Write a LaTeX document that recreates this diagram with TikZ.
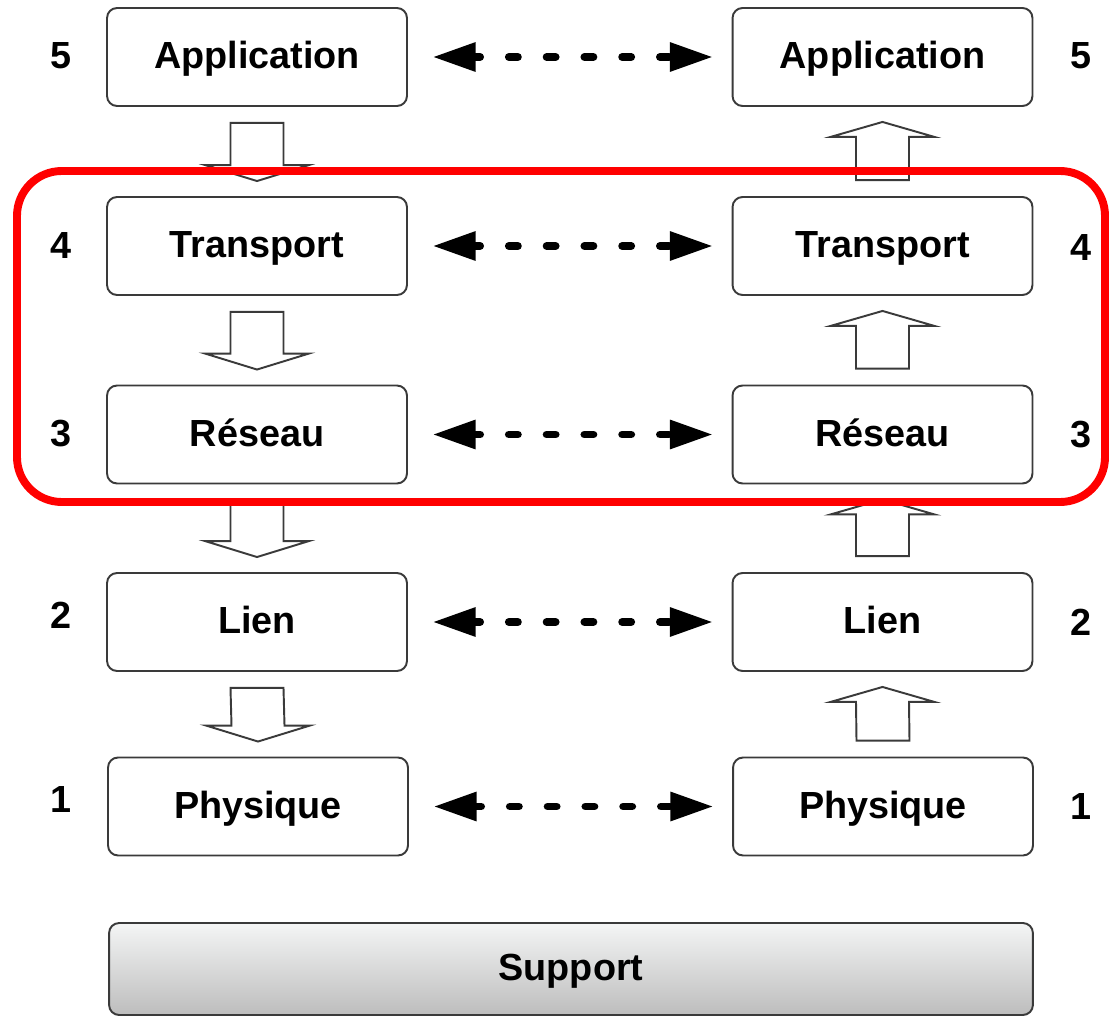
\documentclass[tikz,border=0pt]{standalone}
\usepackage{fontspec}
\setmainfont{Liberation Sans}
\usetikzlibrary{arrows.meta,calc}
\definecolor{boxline}{HTML}{3A3A3A}
\definecolor{supporttop}{HTML}{F4F5F5}
\definecolor{supportbottom}{HTML}{BDBDBD}
\newcommand\labelfont{\fontsize{21.5pt}{25pt}\selectfont\bfseries}
% hollow block arrow going down from #1 to #2
\newcommand\flowdown[2]{%
  \draw[blk] ($(#1.south)+(-26.5,16)$) -- ($(#1.south)+(26.5,16)$)
    -- ($(#2.north)+(26.5,-31)$) -- ($(#2.north)+(52,-31)$)
    -- ($(#2.north)+(0,-15)$) -- ($(#2.north)+(-52,-31)$)
    -- ($(#2.north)+(-26.5,-31)$) -- cycle;}
% hollow block arrow going up from #1 to #2
\newcommand\flowup[2]{%
  \draw[blk] ($(#1.north)+(-26.5,-16)$) -- ($(#1.north)+(26.5,-16)$)
    -- ($(#2.south)+(26.5,30)$) -- ($(#2.south)+(52,30)$)
    -- ($(#2.south)+(0,15)$) -- ($(#2.south)+(-52,30)$)
    -- ($(#2.south)+(-26.5,30)$) -- cycle;}
\begin{document}
\begin{tikzpicture}[x=0.02cm,y=-0.02cm,
  layer/.style={draw=boxline, line width=1.1pt, rounded corners=5.7pt,
    minimum width=6cm, minimum height=1.96cm, inner sep=0pt, fill=white,
    font=\labelfont, text height=17.2pt, text depth=3.66pt},
  num/.style={font=\labelfont, inner sep=0pt},
  peer/.style={line width=4.5pt, line cap=round,
    dash pattern=on 5.1pt off 16.4pt, dash phase=2.55pt,
    {Triangle[length=23.8pt,width=17pt,line width=0pt]}-{Triangle[length=23.8pt,width=17pt,line width=0pt]},
    shorten <=14.7pt, shorten >=11.3pt},
  blk/.style={draw=boxline, line width=1.1pt, fill=white, line join=miter}
]
\useasboundingbox (0,0) rectangle (1109,1016);

% protocol layers, left stack
\node[layer] (LA) at (257,57)    {Application};
\node[layer] (LT) at (257,246)   {Transport};
\node[layer] (LR) at (257,434.5) {Réseau};
\node[layer] (LL) at (257,622)   {Lien};
\node[layer] (LP) at (258,806.5) {Physique};

% protocol layers, right stack
\node[layer] (RA) at (882.5,57)    {Application};
\node[layer] (RT) at (882.5,246)   {Transport};
\node[layer] (RR) at (882.5,434.5) {Réseau};
\node[layer] (RL) at (882.5,622)   {Lien};
\node[layer] (RP) at (883,806.5)   {Physique};

% transmission medium
\node[layer, minimum width=18.48cm, minimum height=1.84cm,
      top color=supporttop, bottom color=supportbottom] (S) at (571,969) {Support};

% layer numbers
\node[num] (n5l) at (61,55.5)  {5};  \node[num] (n5r) at (1081,56)    {5};
\node[num] (n4l) at (61,246)   {4};  \node[num] (n4r) at (1081,247.5) {4};
\node[num] (n3l) at (61,434)   {3};  \node[num] (n3r) at (1081,434.5) {3};
\node[num] (n2l) at (61,615.5) {2};  \node[num] (n2r) at (1081,622)   {2};
\node[num] (n1l) at (61,800)   {1};  \node[num] (n1r) at (1081,807)   {1};

% peer-to-peer exchanges
\draw[peer] (LA) -- (RA);
\draw[peer] (LT) -- (RT);
\draw[peer] (LR) -- (RR);
\draw[peer] (LL) -- (RL);
\draw[peer] (LP) -- (RP);

% data going down the sender stack
\flowdown{LA}{LT}
\flowdown{LT}{LR}
\flowdown{LR}{LL}
\flowdown{LL}{LP}

% data going up the receiver stack
\flowup{RT}{RA}
\flowup{RR}{RT}
\flowup{RL}{RR}
\flowup{RP}{RL}

% highlighted layers
\draw[red, line width=4.5pt, rounded corners=25.5pt] (17,171) rectangle (1105,502);
\end{tikzpicture}
\end{document}
